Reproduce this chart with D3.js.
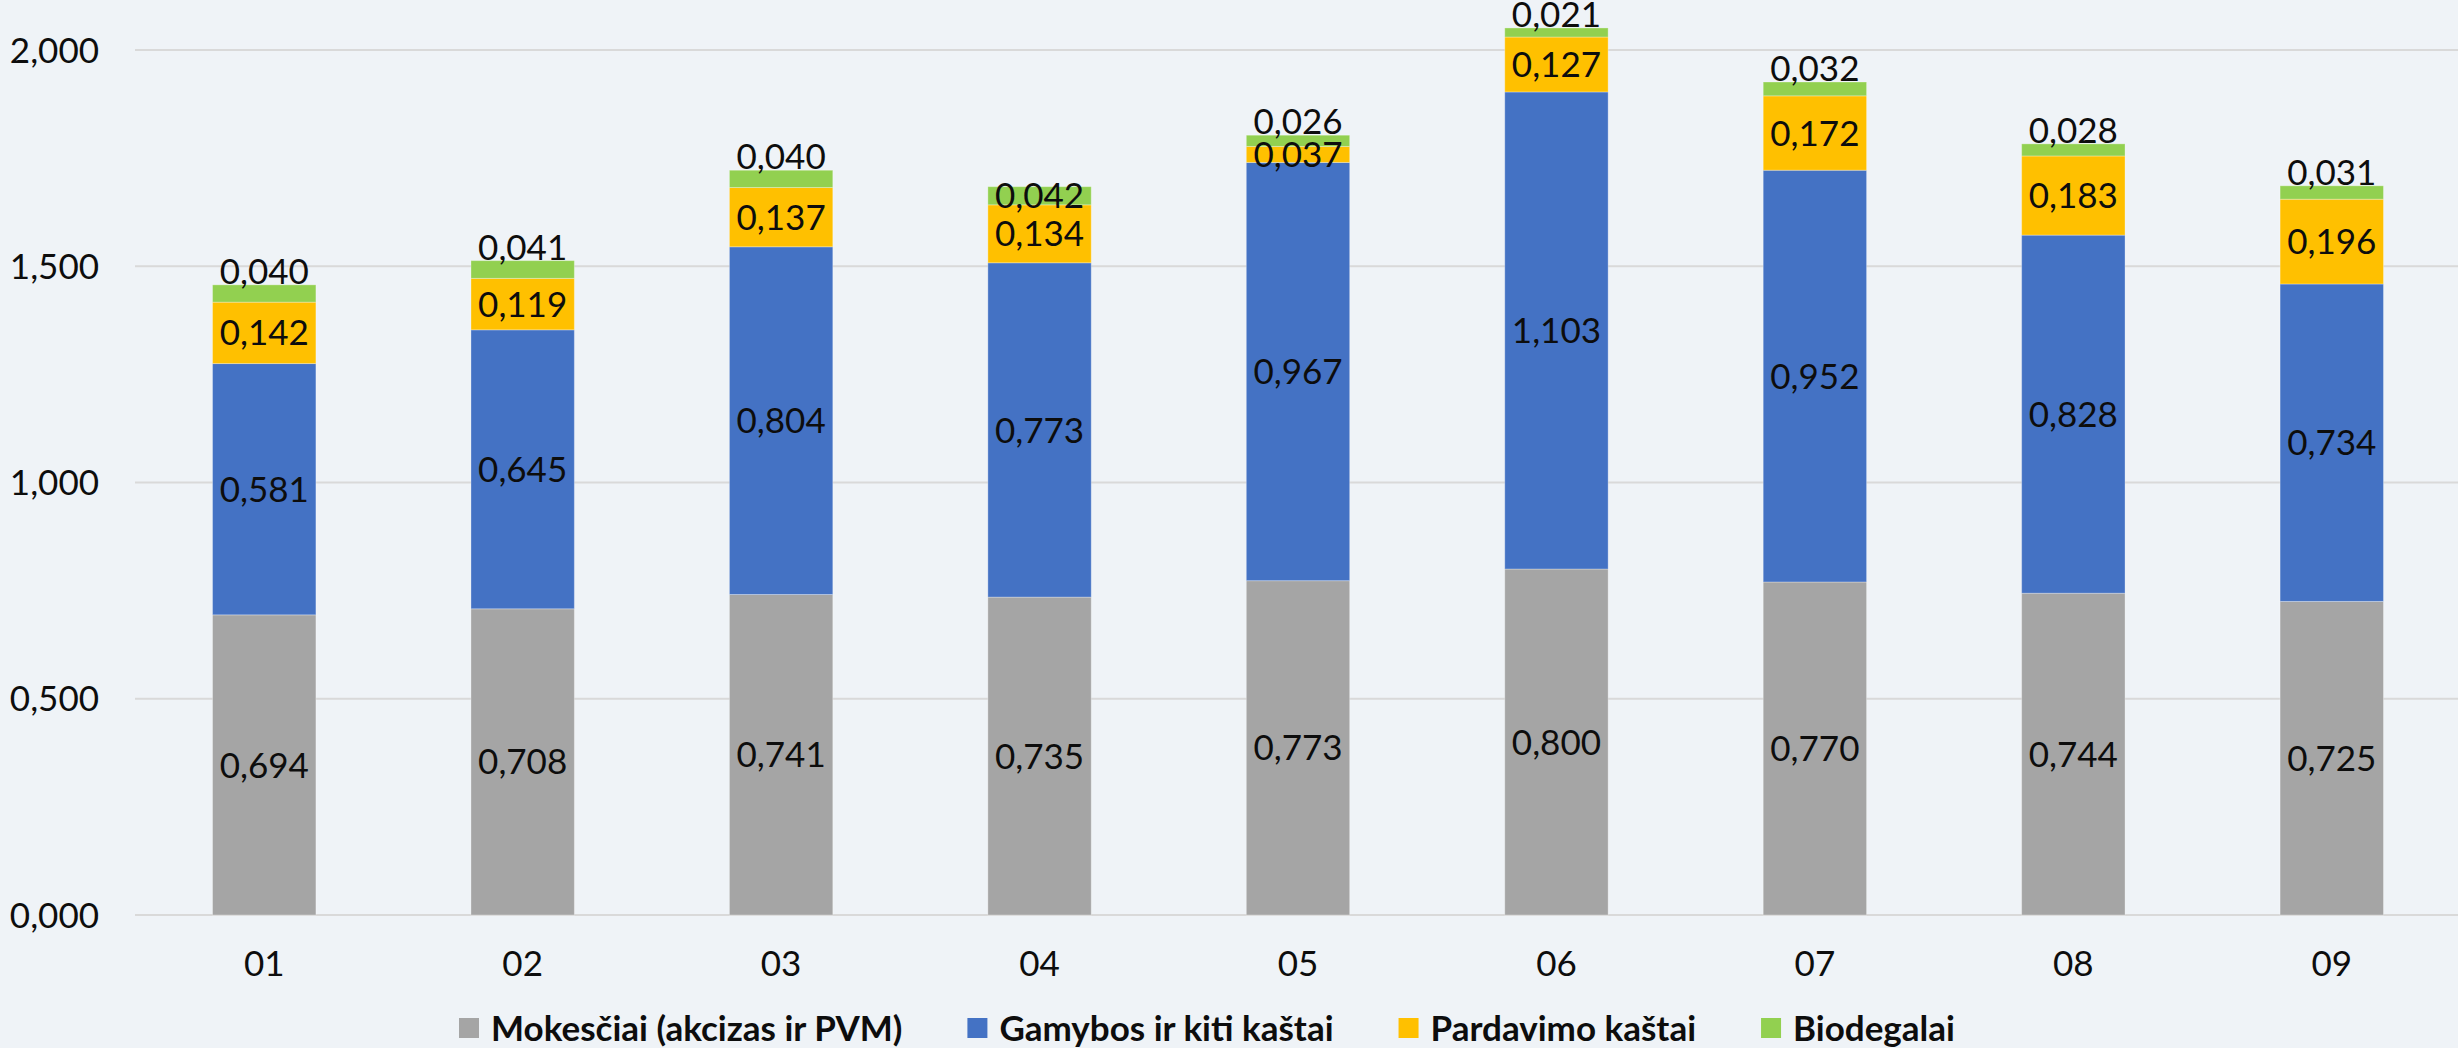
<!DOCTYPE html>
<html>
<head>
<meta charset="utf-8">
<script src="https://cdn.jsdelivr.net/npm/d3@7"></script>
<style>
    html, body { margin: 0; padding: 0; background: #eff3f7; }
    svg { display: block; font-family: Lato, "Open Sans", sans-serif; }
    .grid line { stroke: #d9d9d9; stroke-width: 2; }
    .tick-label { font-size: 35px; fill: #0d0d0d; }
    .value-label { font-size: 35px; fill: #0d0d0d; }
    .legend-text { font-size: 35px; font-weight: bold; fill: #0d0d0d; }
</style>
</head>
<body>
<div id="chart"></div>
<script>
// DATA
const months = ["01", "02", "03", "04", "05", "06", "07", "08", "09"];
const mokesciai = [0.694, 0.708, 0.741, 0.735, 0.773, 0.800, 0.770, 0.744, 0.725];
const gamybos = [0.581, 0.645, 0.804, 0.773, 0.967, 1.103, 0.952, 0.828, 0.734];
const pardavimo = [0.142, 0.119, 0.137, 0.134, 0.037, 0.127, 0.172, 0.183, 0.196];
const biodegalai = [0.040, 0.041, 0.040, 0.042, 0.026, 0.021, 0.032, 0.028, 0.031];
const yTicks = [0, 0.5, 1, 1.5, 2];

const seriesNames = ["Mokesčiai (akcizas ir PVM)", "Gamybos ir kiti kaštai", "Pardavimo kaštai", "Biodegalai"];
// biodegalai labels sit above the bar, except where it was placed inside
const bioLabelInside = [false, false, false, true, false, false, false, false, false];

// VARIABLES
const width = 2458;
const height = 1048;
const colors = ["#a5a5a5", "#4472c4", "#ffc000", "#92d050"];
const keys = ["mok", "gam", "par", "bio"];

const locale = d3.formatLocale({decimal: ",", thousands: " ", grouping: [3], currency: ["", ""]});
const fmt = locale.format(".3f");

const table = months.map((m, i) => ({
    month: m,
    mok: mokesciai[i],
    gam: gamybos[i],
    par: pardavimo[i],
    bio: biodegalai[i],
    idx: i
}));

const stacked = d3.stack().keys(keys)(table);

// CHART SETUP
const xScale = d3.scaleBand()
    .domain(months)
    .range([135, 2461])
    .paddingInner(0.6)
    .paddingOuter(0.3);

const yScale = d3.scaleLinear()
    .domain([0, 2])
    .range([915, 50]);

const svg = d3.select("#chart")
    .append("svg")
    .attr("width", width)
    .attr("height", height);

svg.append("rect")
    .attr("width", width)
    .attr("height", height)
    .attr("fill", "#eff3f7");

// gridlines
svg.append("g")
    .classed("grid", true)
    .selectAll("line")
    .data(yTicks)
    .join("line")
    .attr("x1", 135)
    .attr("x2", width)
    .attr("y1", d => yScale(d))
    .attr("y2", d => yScale(d));

// y axis labels
svg.append("g")
    .selectAll("text")
    .data(yTicks)
    .join("text")
    .classed("tick-label", true)
    .attr("x", 99)
    .attr("y", d => yScale(d))
    .attr("dy", "0.36em")
    .attr("text-anchor", "end")
    .text(d => fmt(d));

// x axis labels
svg.append("g")
    .selectAll("text")
    .data(months)
    .join("text")
    .classed("tick-label", true)
    .attr("x", d => xScale(d) + xScale.bandwidth() / 2)
    .attr("y", 976)
    .attr("text-anchor", "middle")
    .text(d => d);

// bars
const layers = svg.append("g")
    .selectAll("g")
    .data(stacked)
    .join("g")
    .attr("fill", (d, i) => colors[i]);

layers.selectAll("rect")
    .data(d => d)
    .join("rect")
    .attr("x", d => xScale(d.data.month))
    .attr("width", xScale.bandwidth())
    .attr("y", d => yScale(d[1]))
    .attr("height", d => yScale(d[0]) - yScale(d[1]))
    .attr("stroke", "#ffffff")
    .attr("stroke-opacity", 0.3)
    .attr("stroke-width", 1);

// value labels
const labelsG = svg.append("g");
stacked.forEach(layer => {
    labelsG.selectAll(null)
        .data(layer)
        .join("text")
        .classed("value-label", true)
        .attr("x", d => xScale(d.data.month) + xScale.bandwidth() / 2)
        .attr("y", d => {
            if (layer.key === "bio" && !bioLabelInside[d.data.idx]) {
                return yScale(d[1]) - 1;
            }
            return (yScale(d[0]) + yScale(d[1])) / 2;
        })
        .attr("dy", d => (layer.key === "bio" && !bioLabelInside[d.data.idx]) ? 0 : "0.36em")
        .attr("text-anchor", "middle")
        .text(d => fmt(d.data[layer.key]));
});

// legend
const legend = svg.append("g");
const legendY = 1028;
const sq = 20;
const gapText = 12;
const gapItem = 65;

const items = legend.selectAll("g")
    .data(seriesNames)
    .join("g");

items.append("rect")
    .attr("width", sq)
    .attr("height", sq)
    .attr("y", legendY - sq / 2)
    .attr("fill", (d, i) => colors[i]);

items.append("text")
    .classed("legend-text", true)
    .attr("x", sq + gapText)
    .attr("y", legendY)
    .attr("dy", "0.36em")
    .text(d => d);

const widths = [];
items.each(function () {
    widths.push(d3.select(this).select("text").node().getComputedTextLength());
});
let offset = 459;
items.attr("transform", (d, i) => {
    const x = offset;
    offset += sq + gapText + widths[i] + gapItem;
    return `translate(${x}, 0)`;
});
</script>
</body>
</html>
